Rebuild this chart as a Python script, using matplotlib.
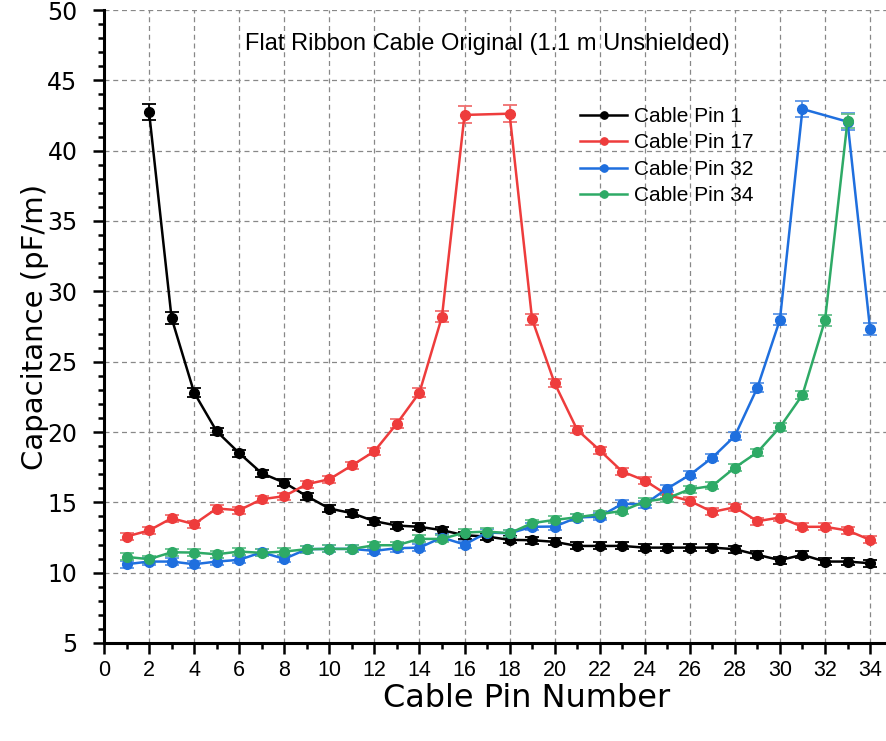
import numpy as np
import matplotlib
matplotlib.use("Agg")
import matplotlib.pyplot as plt
from matplotlib.ticker import MultipleLocator

plt.rcParams['font.family'] = ['Liberation Sans', 'DejaVu Sans']

# measured capacitance per cable pin (pF/m), one series per reference pin
pins_1 = [2, 3, 4, 5, 6, 7, 8, 9, 10, 11, 12, 13, 14, 15, 16, 17, 18, 19, 20,
          21, 22, 23, 24, 25, 26, 27, 28, 29, 30, 31, 32, 33, 34]
cap_1 = [42.75, 28.1, 22.8, 20.05, 18.5, 17.07, 16.4, 15.44, 14.56, 14.23, 13.66,
         13.35, 13.26, 13.02, 12.66, 12.57, 12.33, 12.31, 12.19, 11.9, 11.9, 11.9,
         11.78, 11.78, 11.78, 11.78, 11.67, 11.27, 10.89, 11.27, 10.79, 10.79, 10.67]
err_1 = [0.6, 0.4, 0.3, 0.25, 0.25, 0.25, 0.25, 0.25, 0.25, 0.25, 0.25,
         0.25, 0.25, 0.25, 0.25, 0.25, 0.25, 0.25, 0.25, 0.25, 0.25, 0.25,
         0.25, 0.25, 0.25, 0.25, 0.25, 0.25, 0.25, 0.25, 0.25, 0.25, 0.25]

pins_17 = [1, 2, 3, 4, 5, 6, 7, 8, 9, 10, 11, 12, 13, 14, 15, 16, 18, 19, 20,
           21, 22, 23, 24, 25, 26, 27, 28, 29, 30, 31, 32, 33, 34]
cap_17 = [12.57, 13.0, 13.87, 13.45, 14.56, 14.44, 15.22, 15.44, 16.29, 16.64, 17.62,
          18.63, 20.6, 22.8, 28.2, 42.54, 42.63, 28.02, 23.47, 20.16, 18.7, 17.19,
          16.55, 15.53, 15.1, 14.32, 14.65, 13.66, 13.92, 13.26, 13.26, 13.0, 12.33]
err_17 = [0.25, 0.25, 0.25, 0.25, 0.25, 0.25, 0.25, 0.25, 0.25, 0.25, 0.25,
          0.25, 0.3, 0.3, 0.4, 0.6, 0.6, 0.4, 0.3, 0.25, 0.25, 0.25,
          0.25, 0.25, 0.25, 0.25, 0.25, 0.25, 0.25, 0.25, 0.25, 0.25, 0.25]

pins_32 = [1, 2, 3, 4, 5, 6, 7, 8, 9, 10, 11, 12, 13, 14, 15, 16, 17, 18, 19,
           20, 21, 22, 23, 24, 25, 26, 27, 28, 29, 30, 31, 33, 34]
cap_32 = [10.6, 10.79, 10.79, 10.6, 10.79, 10.91, 11.45, 10.98, 11.67, 11.69, 11.69,
          11.55, 11.74, 11.78, 12.5, 12.0, 12.85, 12.8, 13.26, 13.28, 13.92, 13.99,
          14.89, 14.87, 15.98, 16.95, 18.18, 19.72, 23.16, 27.99, 42.96, 42.06, 27.33]
err_32 = [0.25, 0.25, 0.25, 0.25, 0.25, 0.25, 0.25, 0.25, 0.25, 0.25, 0.25,
          0.25, 0.25, 0.25, 0.25, 0.25, 0.25, 0.25, 0.25, 0.25, 0.25, 0.25,
          0.25, 0.25, 0.25, 0.25, 0.25, 0.3, 0.3, 0.4, 0.6, 0.6, 0.4]

pins_34 = [1, 2, 3, 4, 5, 6, 7, 8, 9, 10, 11, 12, 13, 14, 15, 16, 17, 18, 19,
           20, 21, 22, 23, 24, 25, 26, 27, 28, 29, 30, 31, 32, 33]
cap_34 = [11.12, 10.96, 11.45, 11.43, 11.31, 11.5, 11.41, 11.5, 11.67, 11.69, 11.69,
          11.95, 11.95, 12.4, 12.4, 12.85, 12.92, 12.8, 13.52, 13.75, 13.94, 14.16,
          14.39, 15.05, 15.29, 15.93, 16.17, 17.47, 18.56, 20.34, 22.64, 27.95, 42.13]
err_34 = [0.25, 0.25, 0.25, 0.25, 0.25, 0.25, 0.25, 0.25, 0.25, 0.25, 0.25,
          0.25, 0.25, 0.25, 0.25, 0.25, 0.25, 0.25, 0.25, 0.25, 0.25, 0.25,
          0.25, 0.25, 0.25, 0.25, 0.25, 0.25, 0.25, 0.3, 0.3, 0.4, 0.5]

series = [
    ("Cable Pin 1", pins_1, cap_1, err_1, "#000000", "#000000"),
    ("Cable Pin 17", pins_17, cap_17, err_17, "#EE3C3C", "#F07070"),
    ("Cable Pin 32", pins_32, cap_32, err_32, "#1F6FDE", "#5C95E6"),
    ("Cable Pin 34", pins_34, cap_34, err_34, "#2EAA66", "#66C08E"),
]

fig = plt.figure(figsize=(8.87, 7.41), dpi=100)
ax = fig.add_axes([104 / 887, 98 / 741, 788.6 / 887, 633 / 741])

for label, x, y, e, color, ecolor in series:
    ax.errorbar(x, y, yerr=e, fmt='none', ecolor=ecolor, elinewidth=1.3,
                capsize=5, capthick=1.3, zorder=2)
    ax.plot(x, y, '-o', color=color, lw=1.8, ms=7, label=label, zorder=3)

ax.set_xlim(0, 35)
ax.set_ylim(5, 50)
ax.xaxis.set_major_locator(MultipleLocator(2))
ax.xaxis.set_minor_locator(MultipleLocator(1))
ax.yaxis.set_major_locator(MultipleLocator(5))
ax.yaxis.set_minor_locator(MultipleLocator(1))
ax.set_xticks(np.arange(0, 35, 2))

ax.grid(True, which='major', color='#888888', linestyle=(0, (4, 3)), linewidth=0.9)
ax.set_axisbelow(True)
for side in ['top', 'right']:
    ax.spines[side].set_visible(False)
for side in ['left', 'bottom']:
    ax.spines[side].set_linewidth(2.2)

ax.tick_params(which='major', direction='out', length=8, width=1.8)
ax.tick_params(which='minor', direction='out', length=4, width=1.8)
ax.tick_params(axis='x', which='major', labelsize=15.5, pad=4)
ax.tick_params(axis='y', which='major', labelsize=17, pad=11)
for lab in ax.get_yticklabels():
    lab.set_family('DejaVu Sans')

ax.set_xlabel("Cable Pin Number", fontsize=23, family='DejaVu Sans', va='center')
ax.set_ylabel("Capacitance (pF/m)", fontsize=21, family='DejaVu Sans', va='center')
ax.xaxis.set_label_coords(0.536, -0.088)
ax.yaxis.set_label_coords(-0.087, 0.5)

ax.text(0.486, 0.946, "Flat Ribbon Cable Original (1.1 m Unshielded)",
        transform=ax.transAxes, ha='center', va='center', fontsize=17)

ax.legend(loc='upper left', bbox_to_anchor=(0.604, 0.847), frameon=False,
          fontsize=15, handlelength=2.26, handletextpad=0.3, labelspacing=0.36,
          borderpad=0, borderaxespad=0, markerscale=0.75)

plt.savefig("out.png", dpi=100)
